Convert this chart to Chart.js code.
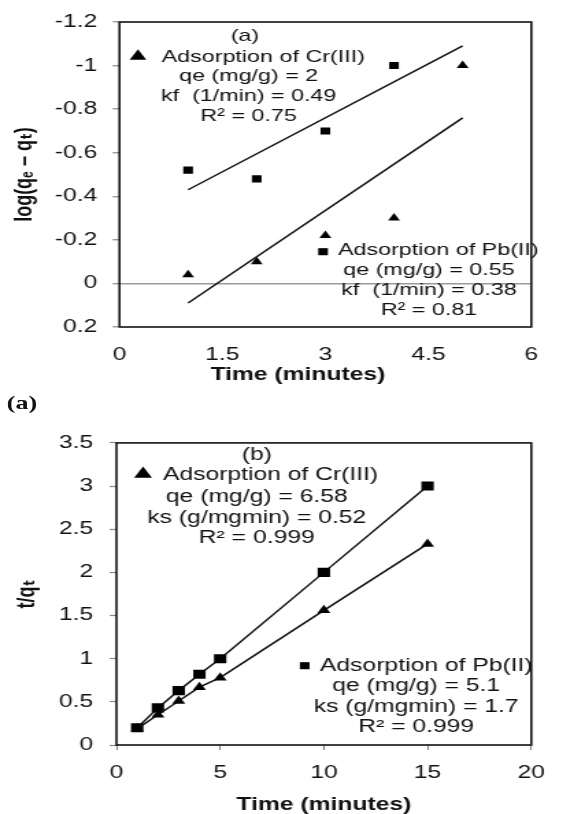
<!DOCTYPE html>
<html>
<head>
<meta charset="utf-8">
<script src="https://cdn.jsdelivr.net/npm/chart.js@4"></script>
<style>
  html, body { margin: 0; padding: 0; background: #fff; overflow: hidden; width: 561px; height: 814px; }
  #wrap { position: absolute; left: 0; top: 0; width: 410px; height: 814px; transform: scaleX(1.37); transform-origin: 0 0; }
  #ca { position: absolute; left: 0; top: 0; }
  #cb { position: absolute; left: 0; top: 420px; }
  #cap { position: absolute; left: 5px; top: 393px; font: bold 19px 'Liberation Serif', 'Times New Roman', serif; line-height: 19px; color: #111; }
</style>
</head>
<body>
<div id="wrap">
  <canvas id="ca" width="410" height="390"></canvas>
  <div id="cap">(a)</div>
  <canvas id="cb" width="410" height="400"></canvas>
</div>
<script>
// ---------- data: chart (a) pseudo-first-order ----------
const timePbA = [1, 2, 3, 4];
const pbLogA = [-0.52, -0.48, -0.70, -1.00];
const timeCrA = [1, 2, 3, 4, 5];
const crLogA = [-0.04, -0.10, -0.22, -0.30, -1.00];
const trendX = [1, 5];
const pbTrendA = [-0.43, -1.09];
const crTrendA = [0.09, -0.76];
const xTicksA = [0, 1.5, 3, 4.5, 6];
const yTicksA = [-1.2, -1, -0.8, -0.6, -0.4, -0.2, 0, 0.2];
const crNotesA = ['Adsorption of Cr(III)', 'qe (mg/g) = 2', 'kf  (1/min) = 0.49', 'R² = 0.75'];
const pbNotesA = ['Adsorption of Pb(II)', 'qe (mg/g) = 0.55', 'kf  (1/min) = 0.38', 'R² = 0.81'];

// ---------- data: chart (b) pseudo-second-order ----------
const timeB = [1, 2, 3, 4, 5, 10, 15];
const pbB = [0.20, 0.43, 0.63, 0.82, 1.00, 2.00, 3.00];
const crB = [0.19, 0.35, 0.51, 0.67, 0.78, 1.56, 2.33];
const xTicksB = [0, 5, 10, 15, 20];
const yTicksB = [0, 0.5, 1, 1.5, 2, 2.5, 3, 3.5];
const crNotesB = ['Adsorption of Cr(III)', 'qe (mg/g) = 6.58', 'ks (g/mgmin) = 0.52', 'R² = 0.999'];
const pbNotesB = ['Adsorption of Pb(II)', 'qe (mg/g) = 5.1', 'ks (g/mgmin) = 1.7', 'R² = 0.999'];

Chart.defaults.font.family = "'Liberation Sans', Arial, 'DejaVu Sans', sans-serif";
Chart.defaults.color = '#111';

const INK = '#111';
const fmt = v => String(Math.round(v * 10) / 10);
const pts = (xs, ys) => xs.map((x, i) => ({ x: x, y: ys[i] }));

function notesPlugin(items) {
  return {
    id: 'notes',
    beforeDatasetsDraw(chart) {
      const a = chart.chartArea, ctx = chart.ctx;
      ctx.save();
      ctx.strokeStyle = INK;
      ctx.lineWidth = 1.6;
      ctx.strokeRect(a.left, a.top, a.right - a.left, a.bottom - a.top);
      ctx.restore();
    },
    afterDraw(chart) {
      const ctx = chart.ctx;
      ctx.save();
      ctx.fillStyle = INK;
      ctx.textBaseline = 'middle';
      items.forEach(it => {
        if (it.marker) {
          ctx.fillStyle = '#000';
          Chart.helpers.drawPoint(ctx, { pointStyle: it.marker, radius: it.r, rotation: 0, borderWidth: 0 }, it.x, it.y);
          ctx.fillStyle = INK;
        } else {
          ctx.font = it.size + "px 'Liberation Sans', Arial, sans-serif";
          ctx.textAlign = it.align;
          ctx.fillText(it.text, it.x, it.y);
        }
      });
      ctx.restore();
    }
  };
}

function noteBlock(lines, size, firstX, firstY, centerX, ys) {
  const out = [{ text: lines[0], x: firstX, y: firstY, align: 'left', size: size }];
  for (let i = 1; i < lines.length; i++) out.push({ text: lines[i], x: centerX, y: ys[i - 1], align: 'center', size: size });
  return out;
}

// ---------- chart (a) ----------
const itemsA = [
  { text: '(a)', x: 178.8, y: 36.7, align: 'center', size: 17 },
  { marker: 'triangle', r: 7, x: 100.7, y: 56.3 },
  ...noteBlock(crNotesA, 17, 118, 57.3, 181.5, [76.7, 96.7, 116]),
  { marker: 'rect', r: 5, x: 235.8, y: 251.7 },
  ...noteBlock(pbNotesA, 17, 246.7, 250, 313.1, [270.7, 290, 310])
];

new Chart(document.getElementById('ca'), {
  type: 'scatter',
  data: {
    datasets: [
      { label: 'Pb(II) trend', data: pts(trendX, pbTrendA), showLine: true, borderColor: INK, borderWidth: 1.5, pointRadius: 0 },
      { label: 'Cr(III) trend', data: pts(trendX, crTrendA), showLine: true, borderColor: INK, borderWidth: 1.5, pointRadius: 0 },
      { label: 'Adsorption of Pb(II)', data: pts(timePbA, pbLogA), showLine: false, pointStyle: 'rect', pointRadius: 5, pointBackgroundColor: '#000', pointBorderWidth: 0 },
      { label: 'Adsorption of Cr(III)', data: pts(timeCrA, crLogA), showLine: false, pointStyle: 'triangle', pointRadius: 5, pointBackgroundColor: '#000', pointBorderWidth: 0 }
    ]
  },
  options: {
    responsive: false, animation: false, events: [],
    layout: { padding: { top: 20.7, right: 4.9, bottom: 0, left: 0 } },
    plugins: { legend: { display: false }, tooltip: { enabled: false } },
    scales: {
      x: {
        type: 'linear', position: 'bottom', min: 0, max: 6,
        afterBuildTicks: s => { s.ticks = xTicksA.map(v => ({ value: v })); },
        afterFit: s => { s.height = 63; },
        grid: { display: false, drawTicks: false },
        border: { display: false },
        ticks: { padding: 17.2, font: { size: 18 }, color: INK, maxRotation: 0, autoSkip: false, callback: v => fmt(v) },
        title: { display: true, text: 'Time (minutes)        ', font: { size: 18, weight: 'bold' }, color: INK, padding: { top: 0, bottom: 4.2 } }
      },
      y: {
        type: 'linear', reverse: true, min: -1.2, max: 0.2,
        afterBuildTicks: s => { s.ticks = yTicksA.map(v => ({ value: v })); },
        afterFit: s => { s.width = 87.2; },
        grid: { drawTicks: true, tickLength: 5, tickColor: '#888', tickWidth: 1.2, lineWidth: 1.5,
                color: c => (c.tick && c.tick.value === 0) ? '#9a9a9a' : 'rgba(0,0,0,0)' },
        border: { display: false },
        ticks: { padding: 11.2, font: { size: 18 }, color: INK, autoSkip: false, callback: v => fmt(v) },
        title: { display: true, text: 'log(qₑ – qₜ)', font: { size: 18, weight: 'bold' }, color: INK, padding: { top: 7.4, bottom: 0 } }
      }
    }
  },
  plugins: [notesPlugin(itemsA)]
});

// ---------- chart (b) ----------
const itemsB = [
  { text: '(b)', x: 187.4, y: 35, align: 'center', size: 18 },
  { marker: 'triangle', r: 7.5, x: 104.4, y: 54.1 },
  ...noteBlock(crNotesB, 18, 119, 55, 187.4, [76.7, 98.3, 118.3]),
  { marker: 'rect', r: 5, x: 222.4, y: 245.7 },
  ...noteBlock(pbNotesB, 18, 233.6, 245.7, 303.8, [265.7, 286.7, 306.7])
];

new Chart(document.getElementById('cb'), {
  type: 'scatter',
  data: {
    datasets: [
      { label: 'Adsorption of Cr(III)', data: pts(timeB, crB), showLine: true, borderColor: INK, borderWidth: 1.5, pointStyle: 'triangle', pointRadius: 5.5, pointBackgroundColor: '#000', pointBorderWidth: 0 },
      { label: 'Adsorption of Pb(II)', data: pts(timeB, pbB), showLine: true, borderColor: INK, borderWidth: 1.5, pointStyle: 'rect', pointRadius: 6.4, pointBackgroundColor: '#000', pointBorderWidth: 0 }
    ]
  },
  options: {
    responsive: false, animation: false, events: [],
    layout: { padding: { top: 15.7, right: 10.7, bottom: 0, left: 0 } },
    plugins: { legend: { display: false }, tooltip: { enabled: false } },
    scales: {
      x: {
        type: 'linear', position: 'bottom', min: 0, max: 20,
        afterBuildTicks: s => { s.ticks = xTicksB.map(v => ({ value: v })); },
        afterFit: s => { s.height = 75; },
        grid: { drawOnChartArea: false, drawTicks: true, tickLength: 5, tickColor: '#888', tickWidth: 1.2 },
        border: { display: false },
        ticks: { padding: 12.2, font: { size: 18 }, color: INK, maxRotation: 0, autoSkip: false, callback: v => fmt(v) },
        title: { display: true, text: 'Time (minutes)', font: { size: 18, weight: 'bold' }, color: INK, padding: { top: 0, bottom: 4.2 } }
      },
      y: {
        type: 'linear', min: 0, max: 3.5,
        afterBuildTicks: s => { s.ticks = yTicksB.map(v => ({ value: v })); },
        afterFit: s => { s.width = 85; },
        grid: { drawOnChartArea: false, drawTicks: true, tickLength: 5, tickColor: '#888', tickWidth: 1.2 },
        border: { display: false },
        ticks: { padding: 12.1, font: { size: 18 }, color: INK, autoSkip: false, callback: v => fmt(v) },
        title: { display: true, text: 't/qₜ', font: { size: 18, weight: 'bold' }, color: INK, padding: { top: 9.6, bottom: 0 } }
      }
    }
  },
  plugins: [notesPlugin(itemsB)]
});
</script>
</body>
</html>
